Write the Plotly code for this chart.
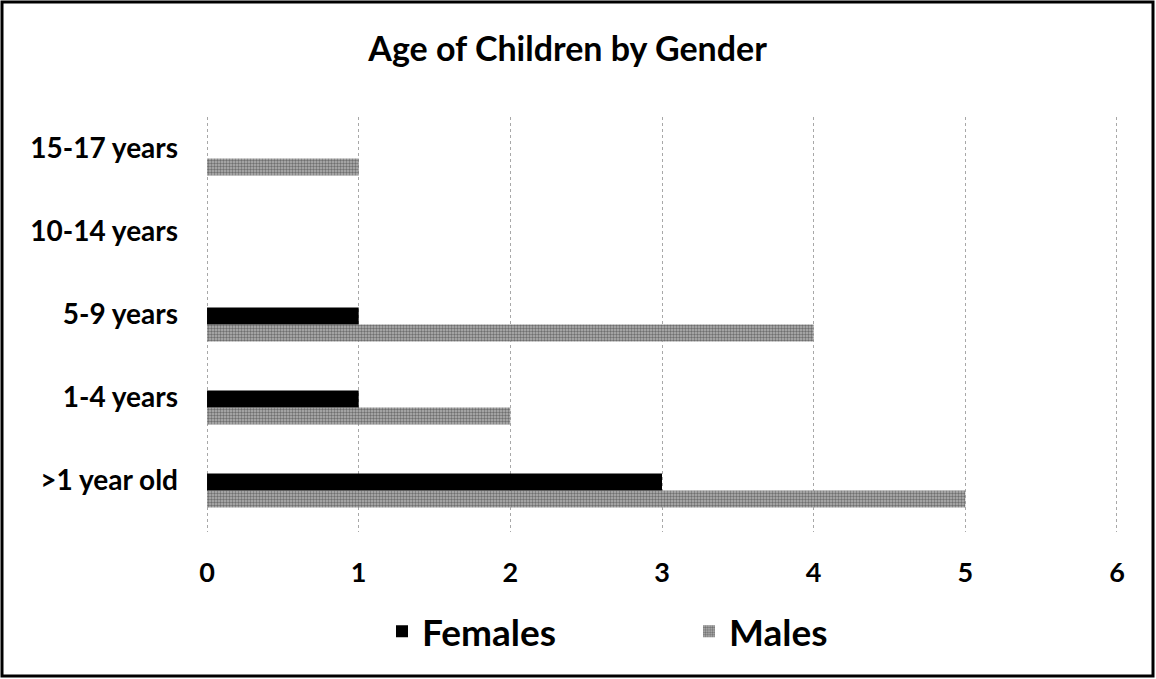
import plotly.graph_objects as go

categories = [">1 year old", "1-4 years", "5-9 years", "10-14 years", "15-17 years"]
females = [3, 1, 1, 0, 0]
males = [5, 2, 4, 0, 1]
x_ticks = [0, 1, 2, 3, 4, 5, 6]

FONT = "Lato, 'Open Sans', sans-serif"

fig = go.Figure()
fig.add_trace(go.Bar(
    y=categories, x=males, name="<b>Males</b>", orientation="h",
    marker=dict(color="#9c9c9c", line=dict(width=0),
                pattern=dict(shape=".", fgcolor="#2a2a2a", bgcolor="#b4b4b4", size=3, solidity=0.5)),
    legendrank=2,
))
fig.add_trace(go.Bar(
    y=categories, x=females, name="<b>Females</b>", orientation="h",
    marker=dict(color="#000000", line=dict(width=0)),
    legendrank=1,
))

L, R = 204, 36
PW = 1156 - L - R  # plot width in px

fig.update_layout(
    width=1156, height=679,
    margin=dict(l=L, r=R, t=117, b=147),
    paper_bgcolor="white", plot_bgcolor="white",
    barmode="group", bargap=0.59, bargroupgap=0,
    title=dict(text="<b>Age of Children by Gender</b>", x=0.491, xanchor="center",
               y=0.927, yanchor="middle", font=dict(family=FONT, size=34, color="black")),
    font=dict(family=FONT, color="black"),
    legend=dict(orientation="h", x=(382 - L) / PW, xanchor="left", y=-0.24, yanchor="middle",
                font=dict(family=FONT, size=37, color="black"), entrywidth=262,
                itemwidth=30, bgcolor="rgba(0,0,0,0)"),
    showlegend=True,
)
fig.update_xaxes(range=[-0.02, 6.02], tickvals=x_ticks, ticktext=[f"<b>{v}</b>" for v in x_ticks],
                 showgrid=True, gridcolor="#a8a8a8", griddash="dot", gridwidth=1,
                 zeroline=False, showline=False, ticks="", ticklabelstandoff=22,
                 tickfont=dict(family=FONT, size=27, color="black"))
fig.update_yaxes(categoryorder="array", categoryarray=categories,
                 tickvals=categories, ticktext=[f"<b>{c}</b>" for c in categories],
                 showgrid=False, zeroline=False, showline=False, ticks="",
                 ticklabelstandoff=25, ticklabelshift=-10,
                 tickfont=dict(family=FONT, size=28, color="black"))

fig.add_shape(type="rect", xref="paper", yref="paper",
              x0=(2 - L) / PW, x1=(1153 - L) / PW,
              y0=(532 - 676) / 415, y1=(532 - 2) / 415,
              line=dict(color="black", width=3), fillcolor="rgba(0,0,0,0)", layer="above")

fig.write_html("out.html", config={"displayModeBar": False},
               post_script="document.body.style.margin='0';")
